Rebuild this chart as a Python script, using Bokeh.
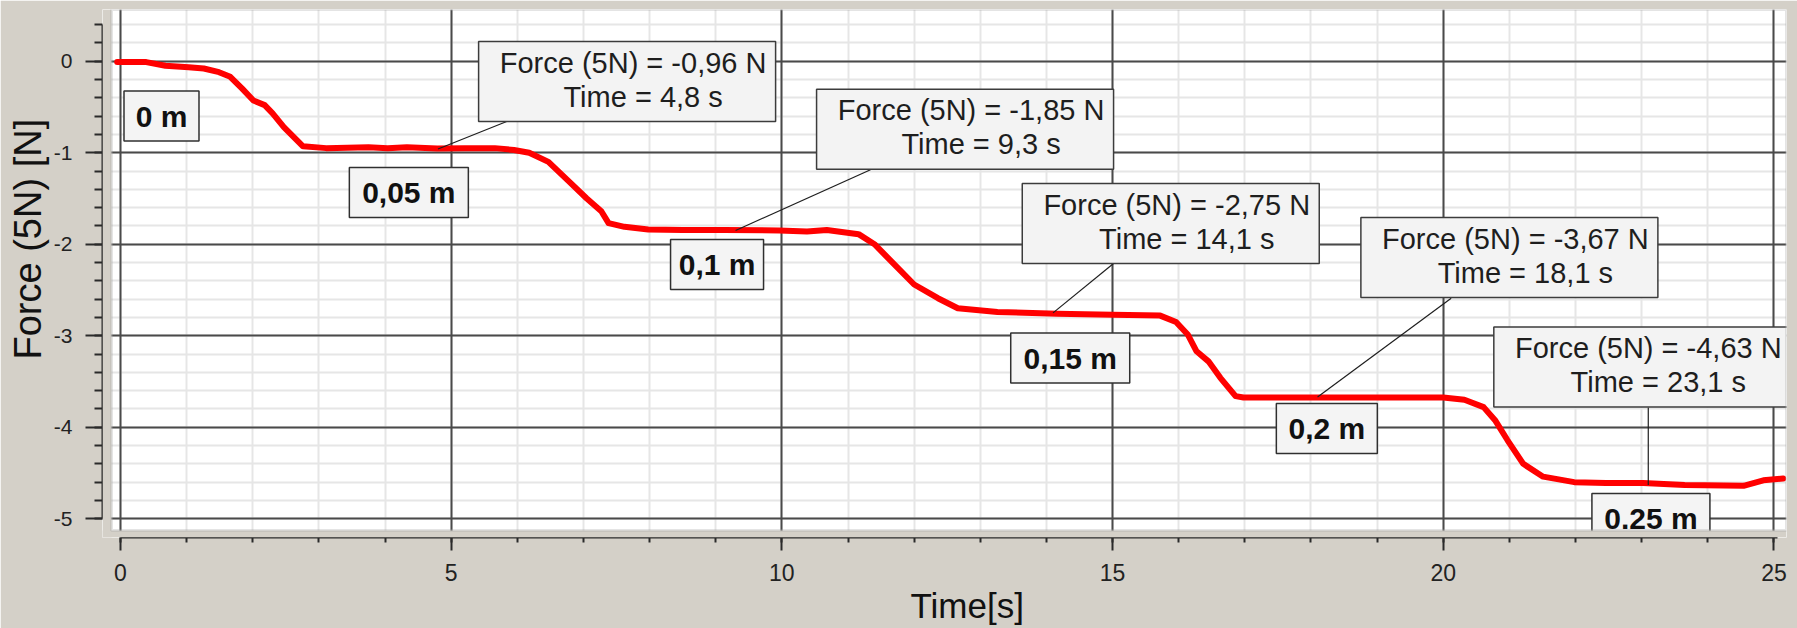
from bokeh.plotting import figure
from bokeh.models import Range1d, SingleIntervalTicker, BoxAnnotation, Grid, Title
from bokeh.core.properties import value
from bokeh.embed import file_html
from bokeh.resources import INLINE

# ---------------- data ----------------
time_s = [-0.05, 0.39, 0.68, 1.03, 1.26, 1.49, 1.66, 1.84, 2.01, 2.18, 2.30, 2.47, 2.76,
          3.11, 3.75, 4.04, 4.33, 4.79, 5.20, 5.66, 5.95, 6.18, 6.47, 6.76, 7.05, 7.27,
          7.38, 7.62, 7.98, 8.50, 9.12, 9.96, 10.38, 10.68, 11.16, 11.40, 11.70, 12.00,
          12.36, 12.66, 13.26, 14.16, 15.00, 15.72, 15.96, 16.14, 16.27, 16.45, 16.63,
          16.86, 16.98, 18.41, 20.00, 20.32, 20.61, 20.79, 20.97, 21.21, 21.51, 21.98,
          22.46, 23.02, 23.65, 24.54, 24.84, 25.14]
force_n = [-0.01, -0.01, -0.05, -0.065, -0.08, -0.12, -0.17, -0.30, -0.43, -0.48, -0.57,
           -0.72, -0.93, -0.95, -0.94, -0.95, -0.94, -0.955, -0.95, -0.95, -0.97, -1.00,
           -1.10, -1.30, -1.50, -1.64, -1.77, -1.81, -1.84, -1.845, -1.845, -1.85, -1.86,
           -1.845, -1.89, -2.00, -2.22, -2.44, -2.59, -2.70, -2.74, -2.76, -2.77, -2.78,
           -2.85, -2.99, -3.17, -3.28, -3.46, -3.66, -3.675, -3.675, -3.675, -3.70, -3.78,
           -3.93, -4.14, -4.40, -4.54, -4.60, -4.61, -4.61, -4.63, -4.64, -4.58, -4.56]

annot_t = [4.8, 9.3, 14.1, 18.1, 23.1]
annot_f = [-0.96, -1.85, -2.75, -3.67, -4.63]

dist_labels = ["0 m", "0,05 m", "0,1 m", "0,15 m", "0,2 m", "0.25 m"]

y_tick_values = [0, -1, -2, -3, -4, -5]
y_tick_labels = ["0", "-1", "-2", "-3", "-4", "-5"]

x_title = "Time[s]"
y_title = "Force (5N) [N]"

# ---------------- layout (positions / sizes of annotation boxes) ----------------
box_x = [7.66, 12.77, 15.88, 21.00, 23.01]
box_y = [-0.222, -0.743, -1.774, -2.145, -3.342]
leader_x = [5.84, 11.34, 15.01, 20.12, 23.10]
leader_y = [-0.659, -1.187, -2.214, -2.590, -3.785]

dist_x = [0.62, 4.36, 9.02, 14.36, 18.24, 23.14]
dist_y = [-0.599, -1.435, -2.222, -3.244, -4.014, -4.998]
dist_w = [75, 119, 93, 119, 101, 118]

line1 = ["Force (5N) = %s N" % ("%.2f" % f).replace(".", ",") for f in annot_f]
line2 = ["Time = %s s" % ("%.1f" % t).replace(".", ",") for t in annot_t]

FONT = value("Liberation Sans")
GRAY_BG = "#d4d0c8"

p = figure(width=1797, height=628,
           x_range=Range1d(-0.272, 25.19), y_range=Range1d(-5.205, 0.565),
           output_backend="svg", toolbar_location=None,
           min_border_left=102, min_border_right=11, min_border_top=9, min_border_bottom=91,
           background_fill_color="white", border_fill_color=GRAY_BG,
           outline_line_color=None)

xt = SingleIntervalTicker(interval=5, num_minor_ticks=5)
yt = SingleIntervalTicker(interval=1, num_minor_ticks=5)
xa = p.xaxis[0]
ya = p.yaxis[0]
xa.ticker = xt
ya.ticker = yt

for ax in (xa, ya):
    ax.axis_line_color = "#2a2a2a"
    ax.axis_line_width = 2
    ax.major_tick_line_color = "#2a2a2a"
    ax.major_tick_line_width = 2
    ax.minor_tick_line_color = "#2a2a2a"
    ax.minor_tick_line_width = 2
    ax.major_tick_in = 0
    ax.minor_tick_in = 0
    ax.major_label_text_font = "Liberation Sans"
    ax.major_label_text_color = "#222222"

xa.bounds = (0, 25.05)
xa.major_tick_out = 13
xa.minor_tick_out = 5
xa.major_label_text_font_size = "23px"
xa.major_label_standoff = 13

ya.bounds = (-5, 0.4)
ya.major_tick_out = 17
ya.minor_tick_out = 8
ya.major_label_text_font_size = "21px"
ya.major_label_standoff = 13
ya.major_label_overrides = {v: s for v, s in zip(y_tick_values, y_tick_labels)}

# axis titles as side-panel titles (left-aligned with an offset along the axis)
p.add_layout(Title(text=x_title, align="left", offset=808, standoff=0,
                   text_font="Liberation Sans", text_font_size="35px",
                   text_font_style="normal", text_color="#111111"), "below")
p.add_layout(Title(text=y_title, align="left", offset=178, standoff=4,
                   text_font="Liberation Sans", text_font_size="38px",
                   text_font_style="normal", text_color="#111111"), "left")

# minor grids first, then major grids on top
minor_x = Grid(dimension=0, ticker=xt, grid_line_color=None,
               minor_grid_line_color="#e6e6e6", minor_grid_line_width=2)
minor_y = Grid(dimension=1, ticker=yt, grid_line_color=None,
               minor_grid_line_color="#e6e6e6", minor_grid_line_width=2)
major_x = p.xgrid[0]
major_y = p.ygrid[0]
major_x.ticker = xt
major_y.ticker = yt
for g in (major_x, major_y):
    g.grid_line_color = "#4a4a4a"
    g.grid_line_width = 2
    g.minor_grid_line_color = None
p.center = [minor_x, minor_y] + list(p.center)

# curve
p.line(time_s, force_n, line_color="#ff0000", line_width=6,
       line_join="round", line_cap="round")

# leader lines
p.segment(annot_t, annot_f, leader_x, leader_y, line_color="#1e1e1e", line_width=1.2)

# callout boxes
p.rect(box_x, box_y, width=297, height=80, width_units="screen", height_units="screen",
       fill_color="#f3f3f3", line_color="#3c3c3c", line_width=1.5)
p.text(box_x, box_y, text=line1, x_offset=6, y_offset=-18.7,
       text_align="center", text_baseline="middle",
       text_font=FONT, text_font_size="29px", text_color="#1e1e1e")
p.text(box_x, box_y, text=line2, x_offset=16, y_offset=15.3,
       text_align="center", text_baseline="middle",
       text_font=FONT, text_font_size="29px", text_color="#1e1e1e")

# distance labels
p.rect(dist_x, dist_y, width=dist_w, height=50, width_units="screen", height_units="screen",
       fill_color="#f4f4f4", line_color="#303030", line_width=1.5)
p.text(dist_x, dist_y, text=dist_labels, y_offset=0,
       text_align="center", text_baseline="middle",
       text_font=FONT, text_font_size="30px", text_font_style="bold", text_color="#111111")

# gray strips between axes and the white plot area, plus its border
p.add_layout(BoxAnnotation(right=-0.136, fill_color=GRAY_BG, fill_alpha=1, line_color=None))
p.add_layout(BoxAnnotation(top=-5.128, fill_color=GRAY_BG, fill_alpha=1, line_color=None))
p.add_layout(BoxAnnotation(left=-0.136, bottom=-5.128, fill_alpha=0,
                           line_color="#a4a4a4", line_width=3))

open("out.html", "w").write(file_html(p, INLINE))
